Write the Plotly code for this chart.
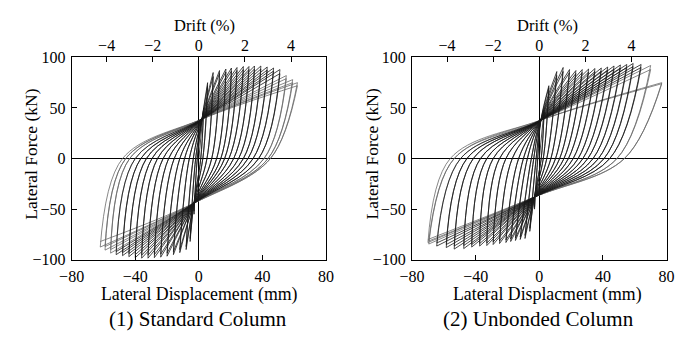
import plotly.graph_objects as go

# ---------------------------------------------------------------
# Cyclic test results: lateral force (kN) vs lateral displacement (mm)
# Each amplitude level is run twice (1st / 2nd cycle).
# ---------------------------------------------------------------

# (1) Standard column
std_amp_pos = [3, 5.5, 9, 13, 17, 20.5, 24, 28, 31.5, 35, 39, 43, 47, 51, 55, 59, 62]
std_force_pos_1 = [50, 75, 85, 87, 88.5, 89.5, 90, 91, 91, 91.5, 91.5, 90.5, 89.5, 88, 82, 78, 75]
std_force_pos_2 = [48, 72, 81, 84, 85.5, 86.5, 87, 88, 88, 88.5, 88.5, 87.5, 86.5, 84, 79, 75, 72]
std_zero_pos = [1.2, 2.5, 5.1, 8.1, 11.2, 13.8, 16.2, 18.9, 21.9, 25, 28, 30.9, 34.1, 37.6, 41, 43.5, 45]
std_amp_neg = [-3, -5.5, -8, -12, -16, -20, -24, -28, -32, -36, -40, -44, -48, -52, -55.5, -59, -62]
std_force_neg_1 = [-55, -82, -90, -93, -95, -96.5, -97.5, -98, -98.5, -98.5, -98, -97, -96, -95, -93.5, -90.5, -87.5]
std_force_neg_2 = [-52, -79, -87, -90, -92, -93.5, -94.5, -95, -95.5, -95.5, -95, -94, -93, -92, -90, -87, -82]
std_zero_neg = [-1, -2, -3.5, -6, -9, -12, -15.5, -19, -22.5, -26, -29.5, -33, -36.5, -40, -43.5, -46, -48]
std_pinch_pos = (2, 39)
std_pinch_neg = (-3, -44)

# (2) Unbonded column
unb_amp_pos = [3, 6, 11, 15, 19, 23, 27, 31, 35, 39, 43, 47, 51, 55, 59, 64, 70, 77]
unb_force_pos_1 = [48, 72, 86, 90, 88, 87, 88, 88.5, 89, 89.5, 90.5, 91.5, 92.5, 93, 94, 93, 92, 75]
unb_force_pos_2 = [46, 70, 82, 86, 85, 84, 85, 85.5, 86, 86.5, 87.5, 88.5, 89.5, 90, 91, 90, 88, 74]
unb_zero_pos = [1.2, 2.5, 4.7, 7.3, 10.2, 12.8, 15.5, 18.3, 21.3, 24.4, 27.4, 30.5, 33.8, 37.2, 40.7, 44.3, 48.8, 53.5]
unb_amp_neg = [-3, -6, -9, -12, -15, -18, -21, -25, -29, -33, -37.5, -42.5, -47.5, -53.5, -58.5, -64.5, -69.5, -70]
unb_force_neg_1 = [-50, -72, -79, -80, -81, -82, -83, -84, -85, -86, -86.5, -87.5, -89, -89.5, -88, -86.5, -84.5, -83]
unb_force_neg_2 = [-48, -69, -76, -77.5, -78.5, -79.5, -80.5, -81.5, -82.5, -83.5, -84, -85, -86, -86.5, -85, -83.5, -81.5, -80]
unb_zero_neg = [-1, -2, -3.5, -5, -7.5, -10, -13, -17, -21, -25, -29, -33, -37, -41.5, -45.5, -49.5, -53.5, -56]
unb_pinch_pos = (1, 38)
unb_pinch_neg = (-3, -38)

drift_ticks = [-4, -2, 0, 2, 4]
disp_ticks = [-80, -40, 0, 40, 80]
force_ticks = [-100, -50, 0, 50, 100]
HEIGHT_MM = 1450  # drift (%) = displacement / column height

FONT = "Liberation Serif, Times New Roman, Times, serif"
INK = "#1a1a1a"
FADED = "#6a6a6a"


def hysteresis(amp_p, fp1, fp2, zp, amp_n, fn1, fn2, zn, pin_p, pin_n, faded_from):
    """Build loop branches (split at the peaks) as None-separated paths."""
    dark_x, dark_y, light_x, light_y = [], [], [], []
    prev_peak = None
    prev_zero = None
    for lvl in range(len(amp_p)):
        for fp, fn in ((fp1[lvl], fn1[lvl]), (fp2[lvl], fn2[lvl])):
            tx, ty = (light_x, light_y) if lvl >= faded_from else (dark_x, dark_y)
            # reloading towards the positive peak
            if prev_peak is None:
                seg = [(0, 0), (amp_p[lvl], fp)]
            else:
                seg = [prev_peak, (prev_zero, 0), pin_p, (amp_p[lvl], fp)]
            tx += [p[0] for p in seg] + [None]
            ty += [p[1] for p in seg] + [None]
            # unloading and loading towards the negative peak
            seg = [(amp_p[lvl], fp), (zp[lvl], 0), pin_n, (amp_n[lvl], fn)]
            tx += [p[0] for p in seg] + [None]
            ty += [p[1] for p in seg] + [None]
            prev_peak = (amp_n[lvl], fn)
            prev_zero = zn[lvl]
    return dark_x, dark_y, light_x, light_y


fig = go.Figure()

panels = [
    (hysteresis(std_amp_pos, std_force_pos_1, std_force_pos_2, std_zero_pos,
                std_amp_neg, std_force_neg_1, std_force_neg_2, std_zero_neg,
                std_pinch_pos, std_pinch_neg, 14), "x", "y", "x2"),
    (hysteresis(unb_amp_pos, unb_force_pos_1, unb_force_pos_2, unb_zero_pos,
                unb_amp_neg, unb_force_neg_1, unb_force_neg_2, unb_zero_neg,
                unb_pinch_pos, unb_pinch_neg, 16), "x3", "y2", "x4"),
]

for (dx, dy, lx, ly), xa, ya, xtop in panels:
    fig.add_trace(go.Scatter(x=lx, y=ly, mode="lines", xaxis=xa, yaxis=ya,
                             line=dict(color=FADED, width=0.8, shape="spline", smoothing=1),
                             connectgaps=False, hoverinfo="skip", showlegend=False))
    fig.add_trace(go.Scatter(x=dx, y=dy, mode="lines", xaxis=xa, yaxis=ya,
                             line=dict(color=INK, width=0.8, shape="spline", smoothing=1),
                             connectgaps=False, hoverinfo="skip", showlegend=False))
    # carrier for the drift scale on top
    fig.add_trace(go.Scatter(x=[0], y=[0], mode="markers", xaxis=xtop, yaxis=ya,
                             marker=dict(opacity=0), hoverinfo="skip", showlegend=False))

W, H = 683, 339
left_dom = [60.5 / W, 323 / W]
right_dom = [411.7 / W, 674.3 / W]
y_dom = [1 - 265 / H, 1 - 52 / H]

tickfont = dict(family=FONT, size=16, color="black")
bottom = dict(range=[-80, 80], tickvals=disp_ticks, ticks="inside", ticklen=5,
              tickcolor="black", showline=True, linecolor="black", linewidth=1,
              mirror=True, zeroline=True, zerolinecolor="black", zerolinewidth=1,
              showgrid=False, tickfont=tickfont, ticklabelstandoff=2)
top = dict(range=[-80 / HEIGHT_MM * 100, 80 / HEIGHT_MM * 100], tickvals=drift_ticks,
           ticks="inside", ticklen=5, tickcolor="black", side="top",
           showline=False, zeroline=False, showgrid=False, tickfont=tickfont,
           ticklabelstandoff=2)
side = dict(range=[-100, 100], tickvals=force_ticks, ticks="inside", ticklen=5,
            tickcolor="black", showline=True, linecolor="black", linewidth=1,
            mirror="ticks", zeroline=True, zerolinecolor="black", zerolinewidth=1,
            showgrid=False, tickfont=tickfont, domain=y_dom, ticklabelstandoff=2)

fig.update_layout(
    width=W, height=H, margin=dict(l=0, r=0, t=0, b=0),
    paper_bgcolor="white", plot_bgcolor="white",
    font=dict(family=FONT, color="black"),
    xaxis=dict(bottom, domain=left_dom, anchor="y"),
    xaxis2=dict(top, overlaying="x", anchor="y"),
    xaxis3=dict(bottom, domain=right_dom, anchor="y2"),
    xaxis4=dict(top, overlaying="x3", anchor="y2"),
    yaxis=dict(side, anchor="x"),
    yaxis2=dict(side, anchor="x3"),
)

def label(text, x, y, size, angle=0):
    fig.add_annotation(text=text, x=x / W, y=1 - y / H, xref="paper", yref="paper",
                       showarrow=False, textangle=angle, xanchor="center", yanchor="middle",
                       font=dict(family=FONT, size=size, color="black"))

label("Drift (%)", 198, 18.5, 16.5)
label("Lateral Displacement (mm)", 192.5, 302, 17.8)
label("(1) Standard Column", 191, 327, 21)
label("Lateral Force (kN)", 19, 154, 17.5, -90)

label("Drift (%)", 551.5, 18.5, 16.5)
label("Lateral Displacment (mm)", 551, 302, 17.8)
label("(2) Unbonded Column", 541.7, 327, 21)
label("Lateral Force (kN)", 370.5, 154, 17.5, -90)

fig.write_html("out.html")
